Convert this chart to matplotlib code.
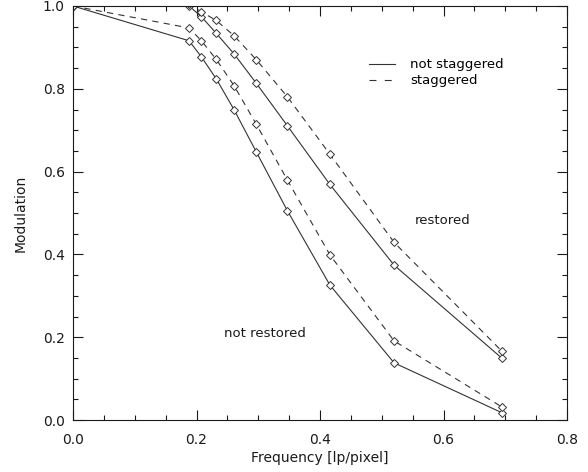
import numpy as np
import matplotlib
matplotlib.use("Agg")
import matplotlib.pyplot as plt
from matplotlib.lines import Line2D
from matplotlib.ticker import MultipleLocator

# -------------------------------
# Dane
# -------------------------------
freq = [0.0, 0.188, 0.208, 0.232, 0.261, 0.297, 0.347, 0.416, 0.520, 0.694]

not_stag_not_rest = [1.0, 0.916, 0.877, 0.824, 0.749, 0.647, 0.506, 0.326, 0.138, 0.018]
stag_not_rest = [1.0, 0.947, 0.916, 0.871, 0.807, 0.714, 0.580, 0.399, 0.191, 0.032]
not_stag_rest = [1.0, 1.0, 0.974, 0.934, 0.884, 0.813, 0.711, 0.569, 0.374, 0.150]
stag_rest = [1.0, 1.005, 0.986, 0.965, 0.928, 0.870, 0.781, 0.642, 0.429, 0.167]

legend_labels = ["not staggered", "staggered"]

# -------------------------------
# Wykres
# -------------------------------
plt.rcParams['font.family'] = 'DejaVu Sans'
plt.rcParams['lines.scale_dashes'] = False

fig = plt.figure(figsize=(5.88, 4.72), dpi=100)
ax = fig.add_axes([73 / 588, 1 - 420 / 472, 494 / 588, 414 / 472])

col = '0.2'
dash = (0, (4.5, 3.8))
mk = dict(marker='D', markersize=4.5, markerfacecolor='white',
          markeredgecolor=col, markeredgewidth=0.7)

ax.plot(freq, not_stag_not_rest, color=col, lw=0.8, **mk)
ax.plot(freq, stag_not_rest, color=col, lw=0.8, linestyle=dash, **mk)
ax.plot(freq, not_stag_rest, color=col, lw=0.8, **mk)
ax.plot(freq, stag_rest, color=col, lw=0.8, linestyle=dash, **mk)

ax.text(0.554, 0.483, "restored", fontsize=9.5, color='0.1', va='center')
ax.text(0.245, 0.21, "not restored", fontsize=9.5, color='0.1', va='center')

handles = [Line2D([], [], color=col, lw=0.8),
           Line2D([], [], color=col, lw=0.8, linestyle=(0, (5, 6)))]
ax.legend(handles, legend_labels, loc='upper left', bbox_to_anchor=(0.599, 0.874),
          frameon=False, fontsize=9.5, handlelength=2.0, handletextpad=1.1,
          labelspacing=0.25, borderpad=0, borderaxespad=0)

ax.set_xlim(0, 0.8)
ax.set_ylim(0, 1.0)
ax.xaxis.set_major_locator(MultipleLocator(0.2))
ax.xaxis.set_minor_locator(MultipleLocator(0.05))
ax.yaxis.set_major_locator(MultipleLocator(0.2))
ax.yaxis.set_minor_locator(MultipleLocator(0.05))
ax.xaxis.set_major_formatter(matplotlib.ticker.FormatStrFormatter('%.1f'))
ax.yaxis.set_major_formatter(matplotlib.ticker.FormatStrFormatter('%.1f'))

ax.tick_params(which='both', direction='in', top=True, right=True,
               colors='0.1', labelsize=10, width=0.8)
ax.tick_params(which='major', length=7.2)
ax.tick_params(which='minor', length=3.8)
ax.tick_params(axis='x', which='major', pad=9)
ax.tick_params(axis='y', which='major', pad=6)
for s in ax.spines.values():
    s.set_linewidth(0.8)
    s.set_color('0.1')

ax.set_xlabel("Frequency [lp/pixel]", fontsize=10, color='0.1', labelpad=3)
ax.set_ylabel("Modulation", fontsize=10, color='0.1', labelpad=11)

fig.savefig("out.png", dpi=100)
